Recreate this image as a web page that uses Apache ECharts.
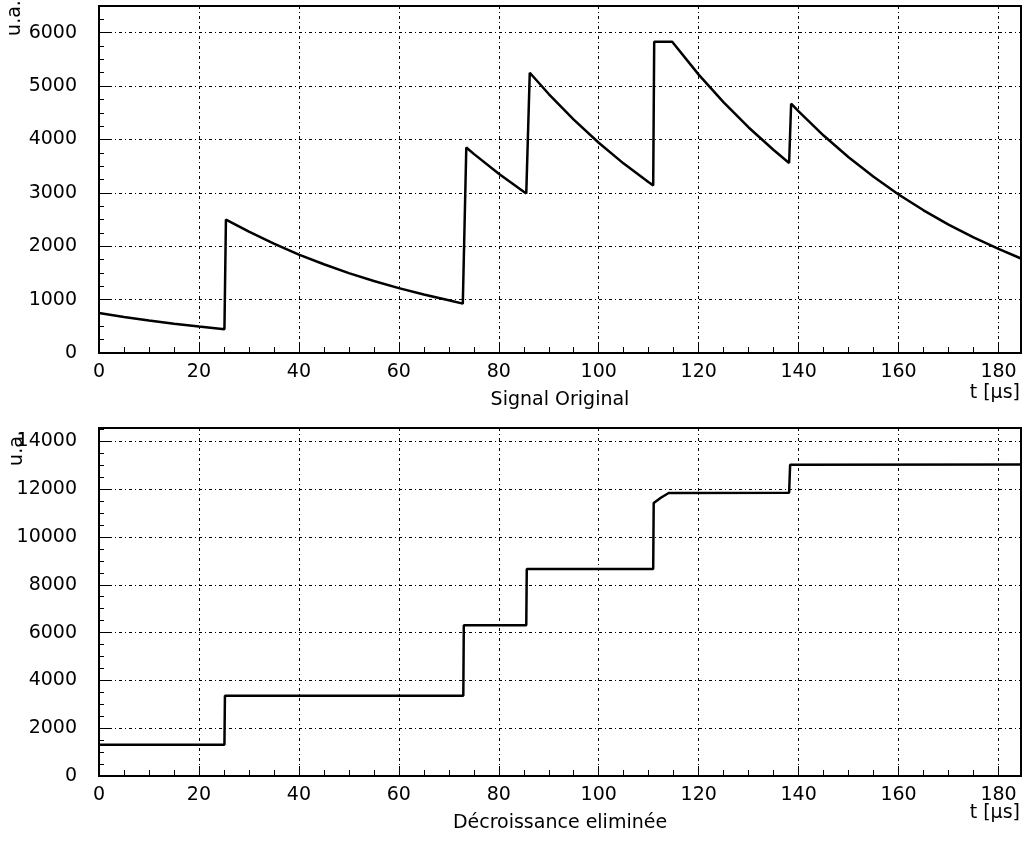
<!DOCTYPE html>
<html>
<head>
<meta charset="utf-8">
<script src="https://cdn.jsdelivr.net/npm/echarts@6.0.0/dist/echarts.min.js"></script>
<style>
  html, body { margin: 0; padding: 0; background: #fff; }
  #main { width: 1026px; height: 843px; }
</style>
</head>
<body>
<div id="main"></div>
<script>
// signal original (u.a.) vs time (µs)
var signalTime = [0, 5, 10, 15, 20, 25.1, 25.4, 30, 35, 40, 45, 50, 55, 60, 65, 70, 72.8, 73.5, 75, 80, 85, 85.5, 86.2,
    90, 95, 100, 105, 110, 110.9, 111.1, 114.7, 115, 120, 125, 130, 135, 138.1, 138.5, 140, 145, 150, 155, 160, 165,
    170, 175, 180, 184.5];
var signalValue = [750, 675, 610, 550, 495, 445, 2500, 2272, 2047, 1844, 1662, 1497, 1349, 1215, 1095, 987, 925, 3850, 3730, 3357, 3022, 2990, 5250,
    4851, 4371, 3938, 3548, 3197, 3140, 5830, 5830, 5793, 5214, 4694, 4225, 3803, 3560, 4670, 4525, 4073, 3666, 3300, 2970, 2673,
    2406, 2165, 1949, 1770];

// décroissance eliminée
var deconvTime = [0, 25.1, 25.2, 72.9, 73.0, 85.5, 85.6, 110.9, 111.0, 111.3, 112.5, 114, 138.1, 138.3, 184.5];
var deconvValue = [1310, 1310, 3360, 3360, 6310, 6310, 8660, 8660, 11420, 11480, 11650, 11840, 11850, 13020, 13030];

var xMax = 184.5;
var xTicks = [0, 20, 40, 60, 80, 100, 120, 140, 160, 180];
var topTitle = 'Signal Original';
var bottomTitle = 'Décroissance eliminée';
var xUnit = 't [µs]';
var yUnit = 'u.a.';

function pairs(xs, ys) {
    var out = [];
    for (var i = 0; i < xs.length; i++) out.push([xs[i], ys[i]]);
    return out;
}

var FONT = 'DejaVu Sans';
var FS = 19;
var gridStyle = { color: '#000', width: 1, type: [3, 3, 1, 3] };

function xAxisFor(gridIndex, title) {
    return {
        type: 'value', gridIndex: gridIndex, min: 0, max: xMax, interval: 20,
        name: title, nameLocation: 'middle', nameGap: 38,
        nameTextStyle: { color: '#000', fontFamily: FONT, fontSize: FS },
        axisLine: { show: true, onZero: false, lineStyle: { color: '#000', width: 2 } },
        axisTick: { show: true, inside: true, length: 10, lineStyle: { color: '#000' } },
        minorTick: { show: true, splitNumber: 4, length: 6, lineStyle: { color: '#000' } },
        splitLine: { show: true, lineStyle: gridStyle },
        axisLabel: { color: '#000', fontFamily: FONT, fontSize: FS, margin: 10, showMaxLabel: false,
            formatter: function (v) { return xTicks.indexOf(v) >= 0 ? String(v) : ''; } }
    };
}
function yAxisFor(gridIndex, max, interval) {
    return {
        type: 'value', gridIndex: gridIndex, min: 0, max: max, interval: interval,
        axisLine: { show: true, onZero: false, lineStyle: { color: '#000', width: 2 } },
        axisTick: { show: true, inside: true, length: 10, lineStyle: { color: '#000' } },
        minorTick: { show: true, splitNumber: 4, length: 5, lineStyle: { color: '#000' } },
        splitLine: { show: true, lineStyle: gridStyle },
        axisLabel: { color: '#000', fontFamily: FONT, fontSize: FS, margin: 22, showMaxLabel: false,
            formatter: function (v) { return String(v); } }
    };
}

var chart = echarts.init(document.getElementById('main'), null, { renderer: 'canvas' });
chart.setOption({
    animation: false,
    backgroundColor: '#fff',
    grid: [
        { left: 99, top: 6, width: 922, height: 347, show: true, borderColor: '#000', borderWidth: 2,
          containLabel: false, outerBoundsMode: 'none' },
        { left: 99, top: 428, width: 922, height: 348, show: true, borderColor: '#000', borderWidth: 2,
          containLabel: false, outerBoundsMode: 'none' }
    ],
    xAxis: [xAxisFor(0, topTitle), xAxisFor(1, bottomTitle)],
    yAxis: [yAxisFor(0, 6500, 1000), yAxisFor(1, 14560, 2000)],
    series: [
        { type: 'line', xAxisIndex: 0, yAxisIndex: 0, data: pairs(signalTime, signalValue),
          showSymbol: false, lineStyle: { color: '#000', width: 2.5 } },
        { type: 'line', xAxisIndex: 1, yAxisIndex: 1, data: pairs(deconvTime, deconvValue),
          showSymbol: false, lineStyle: { color: '#000', width: 2.5 } }
    ],
    graphic: [
        { type: 'text', x: 1020, y: 393, style: { text: xUnit, fill: '#000', font: FS + 'px "DejaVu Sans"', align: 'right', verticalAlign: 'middle' } },
        { type: 'text', x: 1020, y: 813, style: { text: xUnit, fill: '#000', font: FS + 'px "DejaVu Sans"', align: 'right', verticalAlign: 'middle' } },
        { type: 'text', x: 15, y: 18, rotation: Math.PI / 2, style: { text: yUnit, fill: '#000', font: FS + 'px "DejaVu Sans"', align: 'center', verticalAlign: 'middle' } },
        { type: 'text', x: 17, y: 448, rotation: Math.PI / 2, style: { text: yUnit, fill: '#000', font: FS + 'px "DejaVu Sans"', align: 'center', verticalAlign: 'middle' } }
    ]
});
</script>
</body>
</html>
